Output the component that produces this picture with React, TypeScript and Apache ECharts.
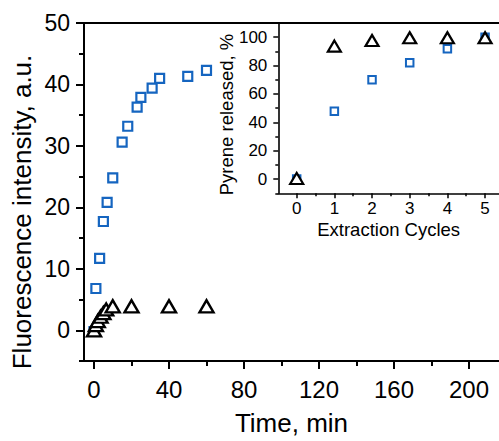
import React, { useEffect, useRef } from "react";
import * as echarts from "echarts";

// Main panel: fluorescence intensity vs time
const squareTime = [0, 1, 3, 5, 7, 10, 15, 18, 23, 25, 31, 35, 50, 60];
const squareFluor = [-0.2, 6.8, 11.7, 17.7, 20.8, 24.8, 30.6, 33.2, 36.3, 37.9, 39.4, 41.0, 41.3, 42.3];
const triangleTime = [0, 1, 2, 3.5, 5, 6.5, 10, 20, 40, 60];
const triangleFluor = [0, 0.85, 1.5, 2.2, 2.8, 3.4, 3.9, 3.9, 3.9, 3.9];

// Inset: pyrene released vs extraction cycles
const cycles = [0, 1, 2, 3, 4, 5];
const squareReleased = [0, 47.8, 70, 82, 91.8, 100];
const triangleReleased = [0.5, 93.7, 97.7, 99.6, 99.6, 99.6];

// Tick labels
const mainXMajor = [0, 40, 80, 120, 160, 200];
const mainXMinor = [20, 60, 100, 140, 180];
const mainYMajor = [0, 10, 20, 30, 40, 50];
const mainYMinor = [-5, 5, 15, 25, 35, 45];
const insetXMajor = [0, 1, 2, 3, 4, 5];
const insetXMinor = [-0.5, 0.5, 1.5, 2.5, 3.5, 4.5];
const insetYMajor = [0, 20, 40, 60, 80, 100];
const insetYMinor = [-10, 10, 30, 50, 70, 90, 110];

const mainYTitle = "Fluorescence intensity, a.u.";
const insetYTitle = "Pyrene released, %";

const BLUE = "#1565c0";
const FONT = "Liberation Sans, Arial, Helvetica, sans-serif";

export default function App() {
  const ref = useRef<HTMLDivElement>(null);
  useEffect(() => {
    if (!ref.current) return;
    const chart = echarts.init(ref.current, null, { renderer: "svg" });
    const line2 = { show: true, onZero: false, lineStyle: { color: "#000", width: 2 } };
    const line15 = { show: true, onZero: false, lineStyle: { color: "#000", width: 1.6 } };
    const noLine = { show: false, onZero: false };
    const mainX = { min: -5.333, max: 216 };
    const mainY = { min: -5, max: 50 };
    const insX = { min: -0.488, max: 5.37 };
    const insY = { min: -10, max: 110 };
    const option: any = {
      animation: false,
      backgroundColor: "#fff",
      textStyle: { fontFamily: FONT },
      grid: [
        { left: 84, top: 23, right: 0, bottom: 74.3 },
        { left: 278.3, top: 23, right: 0, bottom: 247.7 },
      ],
      graphic: [
        {
          type: "text", x: 22, y: 212, rotation: Math.PI / 2,
          style: {
            text: mainYTitle, font: `26px ${FONT}`, fill: "#000",
            textAlign: "center", textVerticalAlign: "middle",
          },
        },
        {
          type: "text", x: 226, y: 114.5, rotation: Math.PI / 2,
          style: {
            text: insetYTitle, font: `18.5px ${FONT}`, fill: "#000",
            textAlign: "center", textVerticalAlign: "middle",
          },
        },
      ],
      xAxis: [
        {
          type: "value", gridIndex: 0, position: "bottom", ...mainX,
          axisLine: line2,
          axisTick: { show: true, customValues: mainXMajor, length: 8, lineStyle: { width: 2, color: "#000" } },
          axisLabel: { show: true, customValues: mainXMajor, fontSize: 24, color: "#000", margin: 16, fontFamily: FONT },
          splitLine: { show: false },
          name: "Time, min", nameLocation: "middle", nameGap: 49,
          nameTextStyle: { fontSize: 26, color: "#000", fontFamily: FONT },
        },
        {
          type: "value", gridIndex: 0, position: "bottom", ...mainX,
          axisLine: noLine,
          axisTick: { show: true, customValues: mainXMinor, length: 5, lineStyle: { width: 2, color: "#000" } },
          axisLabel: { show: false },
          splitLine: { show: false },
        },
        {
          type: "value", gridIndex: 0, position: "top", ...mainX,
          axisLine: line2,
          axisTick: { show: false },
          axisLabel: { show: false },
          splitLine: { show: false },
        },
        {
          type: "value", gridIndex: 1, position: "bottom", ...insX,
          axisLine: line15,
          axisTick: { show: true, customValues: insetXMajor, length: 5, lineStyle: { width: 1.5, color: "#000" } },
          axisLabel: { show: true, customValues: insetXMajor, fontSize: 17, color: "#000", margin: 7, fontFamily: FONT },
          splitLine: { show: false },
          name: "Extraction Cycles", nameLocation: "middle", nameGap: 27,
          nameTextStyle: { fontSize: 18.5, color: "#000", fontFamily: FONT },
        },
        {
          type: "value", gridIndex: 1, position: "bottom", ...insX,
          axisLine: noLine,
          axisTick: { show: true, customValues: insetXMinor, length: 3, lineStyle: { width: 1.5, color: "#000" } },
          axisLabel: { show: false },
          splitLine: { show: false },
        },
      ],
      yAxis: [
        {
          type: "value", gridIndex: 0, position: "left", ...mainY,
          axisLine: line2,
          axisTick: { show: true, customValues: mainYMajor, length: 8, lineStyle: { width: 2, color: "#000" } },
          axisLabel: { show: true, customValues: mainYMajor, fontSize: 23, color: "#000", margin: 14, fontFamily: FONT },
          splitLine: { show: false },
        },
        {
          type: "value", gridIndex: 0, position: "left", ...mainY,
          axisLine: noLine,
          axisTick: { show: true, customValues: mainYMinor, length: 5, lineStyle: { width: 2, color: "#000" } },
          axisLabel: { show: false },
          splitLine: { show: false },
        },
        {
          type: "value", gridIndex: 1, position: "left", ...insY,
          axisLine: line15,
          axisTick: { show: true, customValues: insetYMajor, length: 5, lineStyle: { width: 1.5, color: "#000" } },
          axisLabel: { show: true, customValues: insetYMajor, fontSize: 17, color: "#000", margin: 11, fontFamily: FONT },
          splitLine: { show: false },
        },
        {
          type: "value", gridIndex: 1, position: "left", ...insY,
          axisLine: noLine,
          axisTick: { show: true, customValues: insetYMinor, length: 3, lineStyle: { width: 1.5, color: "#000" } },
          axisLabel: { show: false },
          splitLine: { show: false },
        },
      ],
      series: [
        {
          type: "scatter", xAxisIndex: 0, yAxisIndex: 0,
          data: squareTime.map((t, i) => [t, squareFluor[i]]),
          symbol: "rect", symbolSize: 9,
          itemStyle: { color: "#fff", borderColor: BLUE, borderWidth: 2.2, opacity: 1 },
        },
        {
          type: "scatter", xAxisIndex: 0, yAxisIndex: 0,
          data: triangleTime.map((t, i) => [t, triangleFluor[i]]),
          symbol: "triangle", symbolSize: [14, 12],
          itemStyle: { color: "#fff", borderColor: "#000", borderWidth: 2.4, opacity: 1 },
        },
        {
          type: "scatter", xAxisIndex: 3, yAxisIndex: 2,
          data: cycles.map((c, i) => [c, squareReleased[i]]),
          symbol: "rect", symbolSize: 7.5,
          itemStyle: { color: "#fff", borderColor: BLUE, borderWidth: 2, opacity: 1 },
        },
        {
          type: "scatter", xAxisIndex: 3, yAxisIndex: 2,
          data: cycles.map((c, i) => [c, triangleReleased[i]]),
          symbol: "triangle", symbolSize: [13, 11],
          itemStyle: { color: "#fff", borderColor: "#000", borderWidth: 2.2, opacity: 1 },
        },
      ],
    };
    chart.setOption(option);
    return () => chart.dispose();
  }, []);
  return (
    <div
      ref={ref}
      style={{ position: "fixed", left: 0, top: 0, width: 499, height: 441, background: "#fff" }}
    />
  );
}
